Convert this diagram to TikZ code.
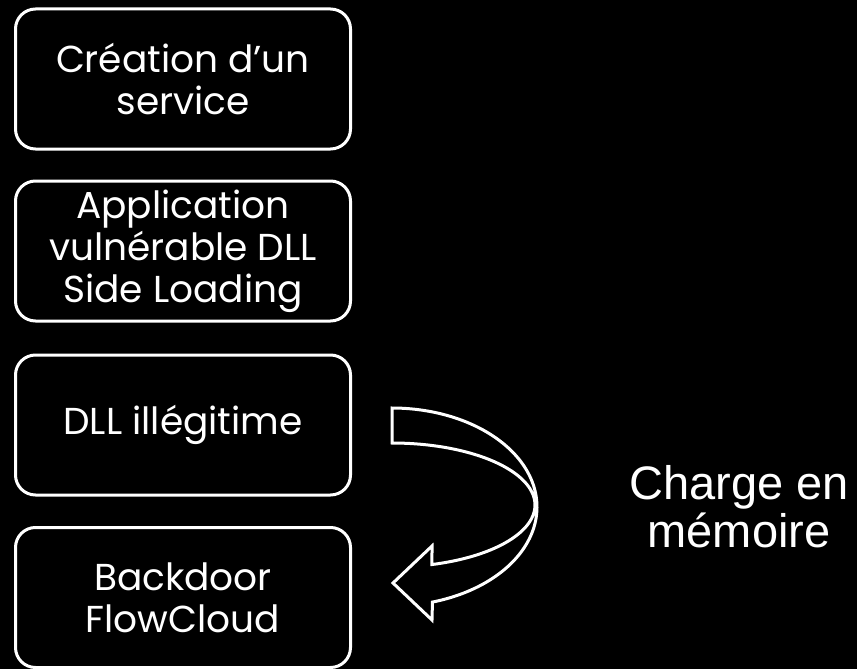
\documentclass[tikz,border=0pt]{standalone}
\usepackage{fontspec}
\setmainfont{Poppins}
\newfontfamily\labelfont{Liberation Sans}
\begin{document}
\begin{tikzpicture}[x=1pt,y=-1pt,
  stepbox/.style={draw=white, line width=3pt, rounded corners=20pt, fill=black,
    text=white, minimum width=335pt, minimum height=140pt, inner sep=0pt,
    align=center, font=\fontsize{37.5}{42}\selectfont},
  bentarrow/.style={draw=white, line width=3pt, fill=black, line join=miter},
  sidelabel/.style={text=white, align=center, inner sep=0pt,
    font=\labelfont\fontsize{47}{48}\selectfont}]
  % background and page size
  \fill[black] (0,0) rectangle (857,669);
  \useasboundingbox (0,0) rectangle (857,669);

  % the four stages
  \node[stepbox] (service) at (183,79)    {Création d’un\\service};
  \node[stepbox] (appli)   at (183,251)   {Application\\vulnérable DLL\\Side Loading};
  \node[stepbox] (dll)     at (183,425)   {DLL illégitime};
  \node[stepbox] (backdoor) at (183,597.5) {Backdoor\\FlowCloud};

  % curved block arrow from the DLL to the backdoor
  \draw[bentarrow] (392,408)
    -- plot[domain=-90:73.8, samples=90] ({392+145*cos(\x)},{507+99*sin(\x)})
    -- (432,620) -- (393,583) -- (432,546)
    -- plot[domain=73.76:-90, samples=90] ({392+143*cos(\x)},{505+62*sin(\x)})
    -- cycle;

  \node[sidelabel] (charge) at (739,507) {Charge en\\mémoire};
\end{tikzpicture}
\end{document}
